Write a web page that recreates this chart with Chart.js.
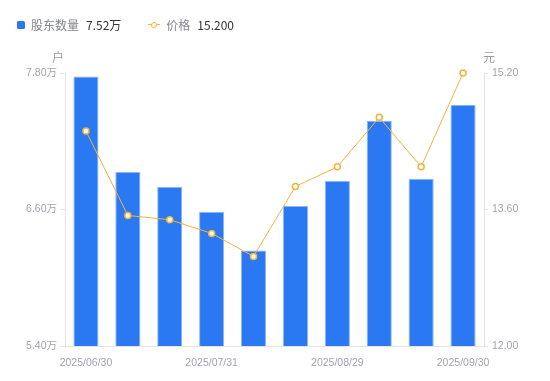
<!DOCTYPE html>
<html>
<head>
<meta charset="utf-8">
<script src="https://cdn.jsdelivr.net/npm/chart.js@4/dist/chart.umd.min.js"></script>
<style>
html,body{margin:0;padding:0;background:#fff;}
#wrap{position:relative;width:550px;height:381px;}
#legend{position:absolute;left:17px;top:16px;font-family:"Noto Sans CJK SC","Liberation Sans",sans-serif;font-size:12px;display:flex;align-items:center;white-space:nowrap;}
.item{display:flex;align-items:center;}
.sq{width:8px;height:8px;border-radius:1.5px;background:#2a78f2;margin-right:6px;}
.ln{position:relative;width:12px;height:8px;margin-right:6px;}
.ln:before{content:"";position:absolute;left:0;right:0;top:3.5px;height:1px;background:#f7b23b;}
.ln:after{content:"";position:absolute;left:3px;top:1px;width:4px;height:4px;border:1.5px solid #f7b23b;border-radius:50%;background:#fff;}
.lab{color:#858590;}
.val{color:#333;margin-left:7px;}
canvas{position:absolute;left:0;top:0;}
</style>
</head>
<body>
<div id="wrap">
<canvas id="c" width="550" height="381"></canvas>
<div id="legend">
  <div class="item"><div class="sq"></div><span class="lab">股东数量</span><span class="val">7.52万</span></div>
  <div class="item" style="margin-left:27px"><div class="ln"></div><span class="lab">价格</span><span class="val">15.200</span></div>
</div>
</div>
<script>
const dates = ['2025/06/30','2025/07/10','2025/07/20','2025/07/31','2025/08/08','2025/08/20','2025/08/29','2025/09/10','2025/09/19','2025/09/30'];
const holders = [7.77, 6.93, 6.80, 6.58, 6.24, 6.63, 6.85, 7.38, 6.87, 7.52];
const prices = [14.52, 13.53, 13.48, 13.32, 13.05, 13.87, 14.10, 14.68, 14.10, 15.20];
const leftTicks = [5.40, 6.60, 7.80];
const rightTicks = [12.00, 13.60, 15.20];

const FONT = '"Liberation Sans","Noto Sans CJK SC",sans-serif';
const tickColor = '#a3a3b3';
const lineGray = '#e3e3e8';

const titlesPlugin = {
  id: 'axisTitles',
  afterDraw(chart) {
    const ctx = chart.ctx;
    const y = chart.scales.y, y1 = chart.scales.y1;
    ctx.save();
    ctx.font = '12px "Noto Sans CJK SC",sans-serif';
    ctx.fillStyle = '#9a9aaa';
    ctx.textAlign = 'center';
    ctx.textBaseline = 'middle';
    ctx.fillText('户', y.right - 7, 57);
    ctx.fillText('元', y1.left + 5, 57);
    ctx.restore();
  }
};

new Chart(document.getElementById('c'), {
  data: {
    labels: dates,
    datasets: [
      {
        type: 'line', label: '价格', data: prices, yAxisID: 'y1',
        borderColor: '#f7b23b', borderWidth: 1, clip: false,
        pointRadius: 3, pointBorderWidth: 1.5, pointBackgroundColor: '#fff',
        pointBorderColor: '#f7b23b', tension: 0, order: 0
      },
      {
        type: 'bar', label: '股东数量', data: holders, yAxisID: 'y',
        backgroundColor: '#2a78f2', borderColor: '#8db6f6', borderWidth: 1,
        categoryPercentage: 1, barPercentage: 0.6, order: 1
      }
    ]
  },
  options: {
    responsive: false, animation: false,
    layout: { padding: { top: 73, left: 0, right: 0, bottom: 0 } },
    plugins: { legend: { display: false }, tooltip: { enabled: false } },
    scales: {
      x: {
        offset: true,
        grid: { display: false },
        border: { display: true, color: lineGray },
        ticks: {
          autoSkip: false, maxRotation: 0, color: tickColor, padding: 3,
          font: { family: FONT, size: 10.5 },
          callback: function(v, i) { return i % 3 === 0 ? dates[i] : ''; }
        },
        afterFit(s) { s.height = 35; }
      },
      y: {
        position: 'left', min: 5.4, max: 7.8,
        afterBuildTicks(s) { s.ticks = leftTicks.map(v => ({ value: v })); },
        grid: { drawOnChartArea: false, drawTicks: true, tickLength: 5, color: lineGray },
        border: { display: true, color: lineGray },
        ticks: { color: tickColor, padding: 3, font: { family: FONT, size: 10.5 },
          callback: v => v.toFixed(2) + '万' },
        afterFit(s) { s.width = 65; }
      },
      y1: {
        position: 'right', min: 12, max: 15.2,
        afterBuildTicks(s) { s.ticks = rightTicks.map(v => ({ value: v })); },
        grid: { drawOnChartArea: false, drawTicks: true, tickLength: 4, color: lineGray },
        border: { display: true, color: lineGray },
        ticks: { color: tickColor, padding: 4, font: { family: FONT, size: 10.5 },
          callback: v => v.toFixed(2) },
        afterFit(s) { s.width = 66; }
      }
    }
  },
  plugins: [titlesPlugin]
});
</script>
</body>
</html>
